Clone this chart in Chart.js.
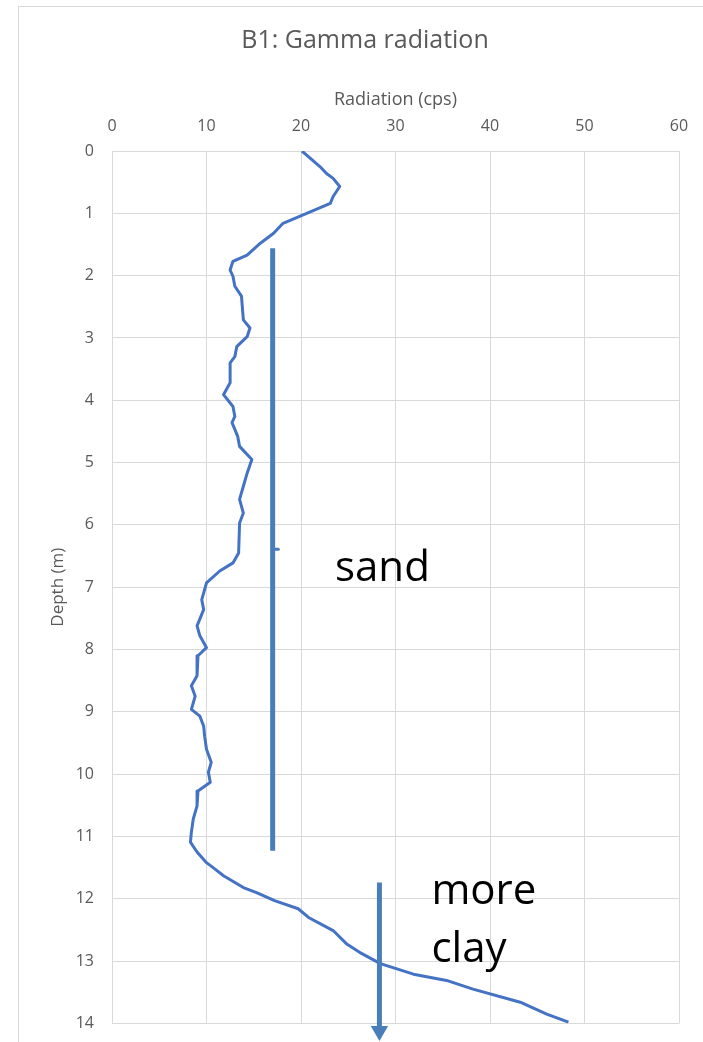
<!DOCTYPE html>
<html>
<head>
<meta charset="utf-8">
<title>B1: Gamma radiation</title>
<script src="https://cdn.jsdelivr.net/npm/chart.js@4.4.0/dist/chart.umd.min.js"></script>
<style>
    html, body { margin: 0; padding: 0; background: #fff; }
    #wrap { width: 703px; height: 1042px; }
</style>
</head>
<body>
<div id="wrap"><canvas id="chart" width="703" height="1042"></canvas></div>
<script>
// Statics
var TITLE = 'B1: Gamma radiation';
var X_TITLE = 'Radiation (cps)';
var Y_TITLE = 'Depth (m)';

// gamma log
var depth = [0.00, 0.25, 0.36, 0.44, 0.57, 0.73, 0.84, 1.00, 1.16, 1.32, 1.48, 1.67, 1.77, 1.91,
    2.01, 2.17, 2.33, 2.71, 2.84, 2.98, 3.14, 3.30, 3.40, 3.72, 3.91, 4.10, 4.26, 4.36, 4.58,
    4.74, 4.95, 5.17, 5.38, 5.59, 5.81, 5.97, 6.45, 6.61, 6.74, 6.93, 7.20, 7.36, 7.62, 7.78,
    7.97, 8.10, 8.42, 8.58, 8.75, 8.96, 9.07, 9.23, 9.39, 9.60, 9.81, 9.97, 10.13, 10.27,
    10.51, 10.72, 10.93, 11.09, 11.25, 11.42, 11.50, 11.63, 11.82, 11.90, 12.03, 12.16, 12.30,
    12.51, 12.72, 12.86, 13.04, 13.21, 13.31, 13.45, 13.66, 13.85, 13.98];
var radiation = [20.1, 22.0, 22.7, 23.4, 24.1, 23.4, 23.1, 20.6, 18.1, 17.1, 15.7, 14.3, 12.8, 12.5,
    12.8, 13.0, 13.7, 13.9, 14.6, 14.3, 13.2, 13.0, 12.5, 12.5, 11.8, 12.8, 13.0, 12.7, 13.3,
    13.5, 14.8, 14.3, 13.9, 13.5, 13.9, 13.5, 13.4, 12.8, 11.4, 10.0, 9.5, 9.7, 9.0, 9.3,
    10.0, 9.1, 9.0, 8.4, 8.8, 8.4, 9.3, 9.7, 9.8, 10.0, 10.5, 10.2, 10.4, 9.1,
    9.0, 8.6, 8.4, 8.3, 9.0, 10.0, 10.7, 11.8, 13.9, 15.3, 17.2, 19.7, 20.8,
    23.4, 24.8, 26.2, 28.4, 31.9, 35.4, 38.2, 43.2, 46.0, 48.3];

// hand drawn marks on top of the log
var sandLineX = [17.0, 17.0];
var sandLineY = [1.56, 11.23];
var sandTickX = [17.0, 17.6];
var sandTickY = [6.39, 6.39];
var clayArrowX = [28.3, 28.3];
var clayArrowY = [11.74, 14.12];

// annotation texts: [text, x (cps), baseline depth]
var notes = [
    ['sand', 23.6, 6.90],
    ['more', 33.8, 12.08],
    ['clay', 33.8, 13.01]
];

var GRID = '#d9d9d9';
var TEXT = '#595959';
var LOG_BLUE = '#4472c4';
var PEN_BLUE = '#4a7ebb';

function toPoints(xs, ys) {
    return xs.map(function (x, i) { return { x: x, y: ys[i] }; });
}

// draws the outer frame, the title and the hand written notes
var decorations = {
    id: 'decorations',
    beforeDraw: function (chart) {
        var ctx = chart.ctx;
        ctx.save();
        ctx.strokeStyle = GRID;
        ctx.lineWidth = 1;
        ctx.strokeRect(18.5, 6.5, 720, 1100); // right and bottom edges fall off the canvas
        ctx.fillStyle = TEXT;
        ctx.font = '25px "Open Sans"';
        ctx.textAlign = 'center';
        ctx.textBaseline = 'middle';
        ctx.fillText(TITLE, 365, 41);
        ctx.restore();
    },
    afterDraw: function (chart) {
        var ctx = chart.ctx;
        var xs = chart.scales.x, ys = chart.scales.y;
        ctx.save();
        ctx.fillStyle = '#000';
        ctx.font = '42px "Open Sans"';
        ctx.textAlign = 'left';
        ctx.textBaseline = 'alphabetic';
        notes.forEach(function (n) {
            ctx.fillText(n[0], xs.getPixelForValue(n[1]), ys.getPixelForValue(n[2]));
        });
        ctx.restore();
    }
};

var chart = new Chart(document.getElementById('chart'), {
    type: 'scatter',
    data: {
        datasets: [
            {
                // arrow first so it sits on top of the log
                data: toPoints(clayArrowX, clayArrowY),
                showLine: true,
                borderColor: PEN_BLUE,
                borderWidth: 5,
                pointRadius: [0, 10],
                pointStyle: 'triangle',
                rotation: 180,
                pointBackgroundColor: PEN_BLUE,
                pointBorderWidth: 0,
                clip: false
            },
            {
                data: toPoints(sandTickX, sandTickY),
                showLine: true,
                borderColor: PEN_BLUE,
                borderWidth: 3,
                borderCapStyle: 'round',
                pointRadius: 0
            },
            {
                data: toPoints(sandLineX, sandLineY),
                showLine: true,
                borderColor: PEN_BLUE,
                borderWidth: 5,
                pointRadius: 0
            },
            {
                data: toPoints(radiation, depth),
                showLine: true,
                borderColor: LOG_BLUE,
                borderWidth: 3,
                borderJoinStyle: 'round',
                pointRadius: 0,
                tension: 0
            }
        ]
    },
    options: {
        responsive: false,
        animation: false,
        events: [],
        layout: { padding: { left: 0, top: 0, right: 24, bottom: 18.6 } },
        plugins: {
            legend: { display: false },
            tooltip: { enabled: false },
            title: { display: false }
        },
        scales: {
            x: {
                type: 'linear',
                position: 'top',
                min: 0,
                max: 60,
                ticks: { stepSize: 10, padding: 15, color: TEXT, font: { family: 'Open Sans', size: 16 } },
                grid: { color: GRID, drawTicks: false },
                border: { color: GRID },
                title: { display: true, text: X_TITLE, color: TEXT, padding: { top: 89, bottom: 0 },
                         font: { family: 'Open Sans', size: 18 } },
                afterFit: function (scale) {
                    scale.height = 151;
                    scale.paddingLeft = 0;
                    scale.paddingRight = 0;
                }
            },
            y: {
                type: 'linear',
                reverse: true,
                min: 0,
                max: 14,
                ticks: { stepSize: 1, padding: 18, color: TEXT, font: { family: 'Open Sans', size: 16 } },
                grid: { color: GRID, drawTicks: false },
                border: { color: GRID },
                title: { display: true, text: Y_TITLE, color: TEXT, padding: { top: 48, bottom: 0 },
                         font: { family: 'Open Sans', size: 17 } },
                afterFit: function (scale) {
                    scale.width = 112;
                    scale.paddingTop = 0;   // keep the plot bottom where the layout padding says
                    scale.paddingBottom = 0;
                }
            }
        }
    },
    plugins: [decorations]
});
</script>
</body>
</html>
